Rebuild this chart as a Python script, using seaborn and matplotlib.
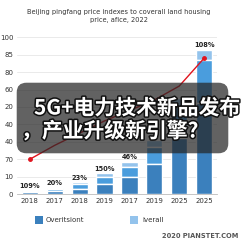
import numpy as np
import pandas as pd
import matplotlib
matplotlib.use("Agg")
import matplotlib.pyplot as plt
import matplotlib.patheffects as pe
from matplotlib.patches import FancyBboxPatch
import seaborn as sns

# data (y in tick-position units)
years = ["2018", "2017", "2018", "2019", "2017", "2019", "2025", "2025"]
dark_part = [0.12, 0.18, 0.30, 0.55, 0.95, 1.70, 3.20, 5.20]
mid_part = [0.07, 0.12, 0.25, 0.45, 0.60, 1.00, 1.80, 2.50]
light_part = [0.04, 0.06, 0.14, 0.20, 0.30, 0.40, 0.50, 0.60]
line_vals = [2.0, 2.8, 3.5, 4.2, 4.8, 5.4, 6.2, 7.8]
pct_labels = ["109%", "20%", "23%", "150%", "46%", "", "", "108%"]
ytick_labels = ["0", "10", "70", "40", "40", "20", "60", "80", "85", "100"]
title = "Beijing pingfang price indexes to coverall land housing\nprice, afice, 2022"
headline1 = "5G+电力技术新品发布"
headline2 = "，产业升级新引擎?"

sns.set_style("white")
plt.rcParams['font.family'] = ['DejaVu Sans']

pos = np.arange(len(years))
df = pd.DataFrame({"pos": pos, "dark": dark_part, "mid": mid_part, "light": light_part})
df["dm"] = df["dark"] + df["mid"]
df["total"] = df["dm"] + df["light"]

fig = plt.figure(figsize=(2.43, 2.43), dpi=100)
fig.patch.set_facecolor("white")
ax = fig.add_axes([0.072, 0.2016, 0.819, 0.6626])

c_dark, c_mid, c_light = "#3b80bd", "#4a9ddd", "#93c3ec"
sns.barplot(data=df, x="pos", y="light", bottom=df["dm"], color=c_light, width=0.65,
            ax=ax, saturation=1)
sns.barplot(data=df, x="pos", y="mid", bottom=df["dark"], color=c_mid, width=0.65,
            ax=ax, saturation=1)
sns.barplot(data=df, x="pos", y="dark", color=c_dark, width=0.65, ax=ax, saturation=1)
sns.lineplot(x=pos, y=line_vals, color="#e0141e", lw=1.0, ax=ax)
ax.plot([pos[0], pos[-1]], [line_vals[0], line_vals[-1]], 'o', color="#e0141e", ms=2.5)

for p, t, lab in zip(pos, df["total"], pct_labels):
    if lab:
        ax.text(p, t + 0.08, lab, ha="center", va="bottom", fontsize=4.8, color="#222222",
                fontweight="bold")

ax.set_ylim(0, 9.25)
ax.set_xlim(-0.5, len(years) - 0.5)
ax.set_yticks(range(len(ytick_labels)))
ax.set_yticklabels(ytick_labels)
ax.set_xticks(pos)
ax.set_xticklabels(years)
ax.set_xlabel("")
ax.set_ylabel("")
ax.tick_params(axis="both", length=0, labelsize=5, colors="#333333", pad=3)
ax.grid(axis="y", color="#e6e6e6", lw=0.6)
ax.set_axisbelow(True)
for s in ["top", "right", "left"]:
    ax.spines[s].set_visible(False)
ax.spines["bottom"].set_color("#bbbbbb")
ax.spines["bottom"].set_linewidth(0.6)

fig.text(0.49, 0.935, title, ha="center", va="center", fontsize=4.8, color="#333333",
         linespacing=1.4)

# legend
fig.patches.append(FancyBboxPatch((35 / 243, 1 - 224 / 243), 8 / 243, 8 / 243,
                                  boxstyle="square,pad=0", transform=fig.transFigure,
                                  facecolor=c_dark, edgecolor="none"))
fig.text(46 / 243, 1 - 220 / 243, "Overitsiont", fontsize=5, va="center", color="#333333")
fig.patches.append(FancyBboxPatch((130 / 243, 1 - 224 / 243), 8 / 243, 8 / 243,
                                  boxstyle="square,pad=0", transform=fig.transFigure,
                                  facecolor=c_light, edgecolor="none"))
fig.text(142 / 243, 1 - 220 / 243, "iverall", fontsize=5, va="center", color="#333333")
fig.text(238 / 243, 1 - 236 / 243, "2020 PIANSTET.COM", fontsize=4.8, ha="right",
         va="center", color="#555555", fontweight="bold")

# dark headline overlay
box = FancyBboxPatch((24 / 243, 1 - 146 / 243), 197 / 243, 56 / 243,
                     boxstyle="round,pad=0.03,rounding_size=0.04",
                     transform=fig.transFigure, facecolor="#262626", edgecolor="none",
                     alpha=0.72, zorder=5)
fig.patches.append(box)
stroke = [pe.withStroke(linewidth=2.2, foreground="#111111")]
fig.text(34 / 243, 1 - 108 / 243, headline1, fontsize=15, color="white", fontweight="bold",
         va="center", ha="left", family=["Noto Sans CJK SC", "DejaVu Sans"],
         path_effects=stroke, zorder=6)
fig.text(21 / 243, 1 - 131 / 243, headline2, fontsize=15, color="white", fontweight="bold",
         va="center", ha="left", family=["Noto Sans CJK SC", "DejaVu Sans"],
         path_effects=stroke, zorder=6)

fig.savefig("out.png", dpi=100, facecolor="white")
